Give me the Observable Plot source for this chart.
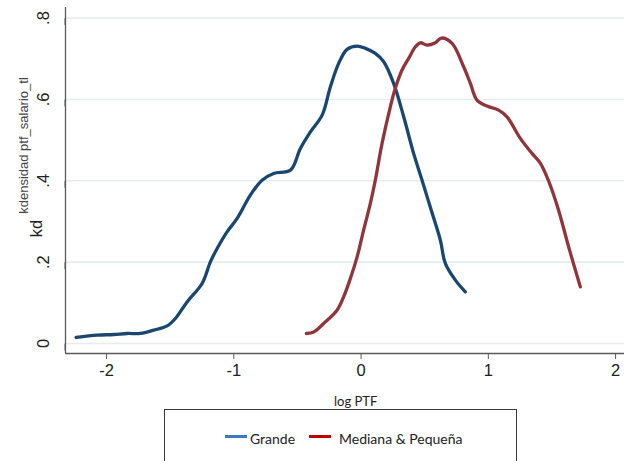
<!DOCTYPE html>
<html>
<head>
<meta charset="utf-8">
<script src="https://cdn.jsdelivr.net/npm/d3@7"></script>
<script src="https://cdn.jsdelivr.net/npm/@observablehq/plot@0.6"></script>
<style>
  html, body { margin: 0; padding: 0; background: white; }
  #wrap { position: relative; width: 624px; height: 461px; overflow: hidden; background: white; }
  #legend { position: absolute; left: 164px; top: 409px; width: 353px; height: 80px; border: 1px solid #3a3a3a; box-sizing: border-box; font-family: Lato, "Open Sans", sans-serif; font-size: 14px; color: #222; }
  .sw { position: absolute; height: 3px; width: 22px; }
  .lt { position: absolute; white-space: nowrap; line-height: 1; }
  #xlabel { position: absolute; font-family: Lato, "Open Sans", sans-serif; font-size: 13px; color: #222; }
</style>
</head>
<body>
<div id="wrap"></div>
<script>
// Data
const grandeX = [-2.239, -2.074, -1.943, -1.838, -1.734, -1.629, -1.524, -1.459, -1.367, -1.249, -1.184, -1.131, -1.053, -0.974, -0.870, -0.778, -0.687, -0.555, -0.477, -0.398, -0.306, -0.241, -0.176, -0.110, -0.031, 0.034, 0.112, 0.178, 0.256, 0.335, 0.413, 0.479, 0.551, 0.623, 0.662, 0.741, 0.819];
const grandeY = [0.0148, 0.0204, 0.0221, 0.0246, 0.0246, 0.0327, 0.0433, 0.0615, 0.1023, 0.1476, 0.2007, 0.2336, 0.2745, 0.3074, 0.3647, 0.4016, 0.4181, 0.4262, 0.4796, 0.5204, 0.5615, 0.6311, 0.6886, 0.7231, 0.7312, 0.7255, 0.7132, 0.6926, 0.6394, 0.5573, 0.4673, 0.4016, 0.328, 0.2541, 0.1968, 0.1557, 0.1269];
const medianaX = [-0.430, -0.372, -0.294, -0.189, -0.137, -0.084, -0.031, 0.020, 0.073, 0.112, 0.165, 0.230, 0.269, 0.322, 0.374, 0.427, 0.466, 0.518, 0.584, 0.631, 0.715, 0.806, 0.859, 0.911, 0.990, 1.081, 1.147, 1.251, 1.343, 1.409, 1.471, 1.552, 1.631, 1.723];
const medianaY = [0.0246, 0.0285, 0.0492, 0.0819, 0.1146, 0.1599, 0.2130, 0.2787, 0.3443, 0.4016, 0.4919, 0.5819, 0.6272, 0.6722, 0.7009, 0.7295, 0.7393, 0.7336, 0.7393, 0.7509, 0.7378, 0.6803, 0.6394, 0.5984, 0.5836, 0.5738, 0.5573, 0.5042, 0.4673, 0.4427, 0.4016, 0.3278, 0.2376, 0.1392];
const seriesNames = ["Grande", "Mediana & Pequeña"];
const xTicks = [-2, -1, 0, 1, 2];
const xTickLabels = ["-2", "-1", "0", "1", "2"];
const yTicks = [0, 0.2, 0.4, 0.6, 0.8];
const yTickLabels = ["0", ".2", ".4", ".6", ".8"];
const xTitle = "log PTF";
const yTitle = "kd";
const yNote = "kdensidad ptf_salario_tl";

const grande = grandeX.map((x, i) => ({x, y: grandeY[i]}));
const mediana = medianaX.map((x, i) => ({x, y: medianaY[i]}));
const xMin = -2.3225, xMax = 2.07, yMin = -0.0246, yMax = 0.826;

const chart = Plot.plot({
  width: 624, height: 461,
  marginLeft: 65, marginRight: 0, marginTop: 7, marginBottom: 108,
  x: {domain: [xMin, xMax]},
  y: {domain: [yMin, yMax]},
  style: {fontFamily: "'Liberation Sans', Arial, sans-serif", background: "white", color: "#222"},
  marks: [
    Plot.ruleY(yTicks, {stroke: "#e4eef0", strokeWidth: 1.6}),
    Plot.ruleX([xMin], {stroke: "#5a5a5a", strokeWidth: 1.3}),
    Plot.ruleY([yMin], {stroke: "#5a5a5a", strokeWidth: 1.3}),
    Plot.axisX({ticks: xTicks, tickSize: 6, tickPadding: 5, fontSize: 16.5, stroke: "#5a5a5a",
      tickFormat: d => xTickLabels[xTicks.indexOf(d)], label: null}),
    Plot.axisY({ticks: yTicks, tickSize: 7, tickPadding: 15, fontSize: 16.5, stroke: "#5a5a5a",
      rotate: -90, textAnchor: "middle",
      tickFormat: d => yTickLabels[yTicks.indexOf(d)], label: null}),
    Plot.line(grande, {x: "x", y: "y", stroke: "#1a476f", strokeWidth: 3.3, curve: "catmull-rom"}),
    Plot.line(mediana, {x: "x", y: "y", stroke: "#90353b", strokeWidth: 3.3, curve: "catmull-rom"}),
    Plot.text([yTitle], {frameAnchor: "top-left", text: d => d, textAnchor: "middle", dx: -35, dy: 221, rotate: -90, fontSize: 16.5, fill: "#222"}),
    Plot.text([yNote], {frameAnchor: "top-left", text: d => d, textAnchor: "middle", dx: -47, dy: 138, rotate: -90, fontSize: 13, fill: "#444"})
  ]
});
const wrap = document.getElementById("wrap");
wrap.appendChild(chart);

const xl = document.createElement("div");
xl.id = "xlabel";
xl.textContent = xTitle;
xl.style.left = "334px"; xl.style.top = "393px";
wrap.appendChild(xl);

const legend = document.createElement("div");
legend.id = "legend";
const colorsLegend = ["#3a7cc3", "#c00000"];
const swLeft = [60, 144];
const txLeft = [85, 174];
seriesNames.forEach((name, i) => {
  const s = document.createElement("div");
  s.className = "sw"; s.style.left = swLeft[i] + "px"; s.style.top = "25px"; s.style.background = colorsLegend[i];
  legend.appendChild(s);
  const t = document.createElement("div");
  t.className = "lt"; t.style.left = txLeft[i] + "px"; t.style.top = "22px"; t.textContent = name;
  legend.appendChild(t);
});
wrap.appendChild(legend);
</script>
</body>
</html>
